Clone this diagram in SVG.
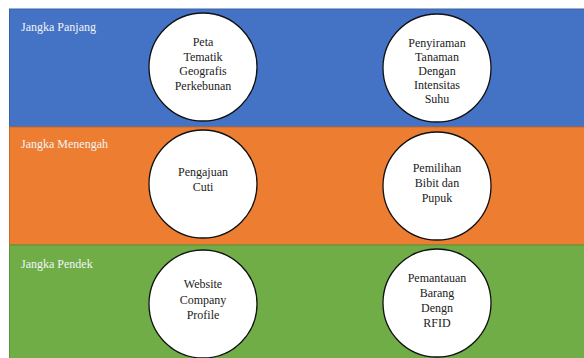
<svg xmlns="http://www.w3.org/2000/svg" width="584" height="358" viewBox="0 0 584 358">
<style>
.lbl{font-size:12px;fill:#f2f4f8}
.node circle{fill:#fff;stroke:#111;stroke-width:1.3}
.node text{font-size:12px;fill:#222;text-anchor:middle}
</style>
<rect width="584" height="358" fill="#fff"/>
<g id="bands" font-family="Liberation Serif, DejaVu Serif, serif">
<rect x="9.5" y="9" width="576" height="118" fill="#4472C4" stroke="#3b62a8"/>
<rect x="9.5" y="127" width="576" height="118" fill="#ED7D31" stroke="#c9692a"/>
<rect x="9.5" y="245" width="576" height="114" fill="#70AD47" stroke="#5f933c"/>
<text class="lbl" x="21" y="31">Jangka Panjang</text>
<text class="lbl" x="21" y="148">Jangka Menengah</text>
<text class="lbl" x="21" y="268">Jangka Pendek</text>
</g>
<g id="connectors"></g>
<g id="nodes" font-family="Liberation Serif, DejaVu Serif, serif">
<g id="n1" class="node"><circle cx="203" cy="67" r="54"/>
<text x="203" y="46">Peta</text><text x="203" y="61">Tematik</text><text x="203" y="75">Geografis</text><text x="203" y="90">Perkebunan</text></g>
<g id="n2" class="node"><circle cx="437" cy="68" r="54"/>
<text x="437" y="47">Penyiraman</text><text x="437" y="61">Tanaman</text><text x="437" y="75">Dengan</text><text x="437" y="89">Intensitas</text><text x="437" y="103">Suhu</text></g>
<g id="n3" class="node"><circle cx="203" cy="184" r="54"/>
<text x="203" y="176">Pengajuan</text><text x="203" y="191">Cuti</text></g>
<g id="n4" class="node"><circle cx="437" cy="186" r="54"/>
<text x="437" y="172">Pemilihan</text><text x="437" y="187">Bibit dan</text><text x="437" y="202">Pupuk</text></g>
<g id="n5" class="node"><circle cx="203" cy="304" r="54"/>
<text x="203" y="288">Website</text><text x="203" y="304">Company</text><text x="203" y="319">Profile</text></g>
<g id="n6" class="node"><circle cx="437" cy="303" r="54"/>
<text x="437" y="282">Pemantauan</text><text x="437" y="297">Barang</text><text x="437" y="312">Dengn</text><text x="437" y="327">RFID</text></g>
</g>
</svg>
